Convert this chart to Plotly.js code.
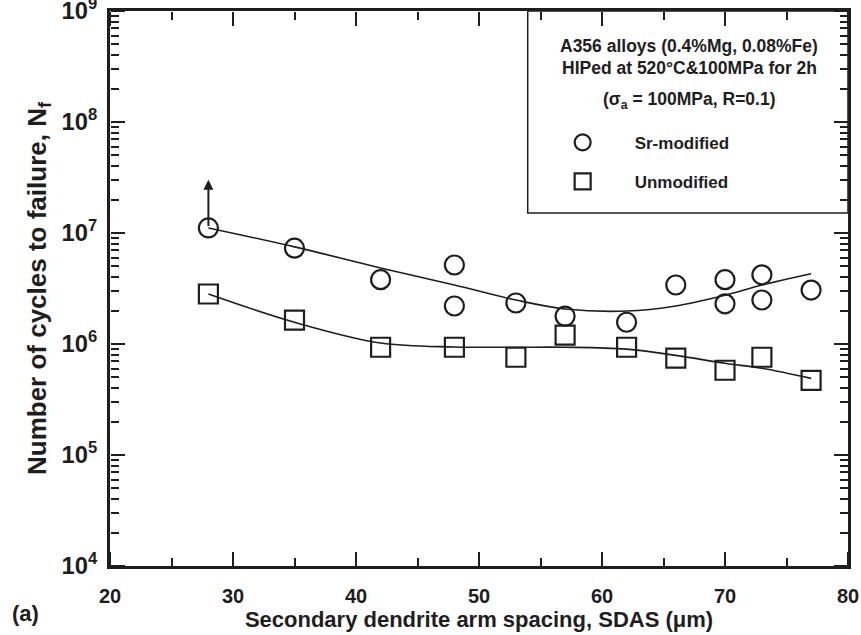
<!DOCTYPE html>
<html><head><meta charset="utf-8">
<script src="https://cdn.plot.ly/plotly-3.0.1.min.js"></script>
<style>body{margin:0;background:#fff}#c{width:861px;height:635px}</style>
</head><body><div id="c"></div>
<script>
// Sr-modified measured points
const srX = [28, 35, 42, 48, 48, 53, 57, 62, 66, 70, 70, 73, 73, 77];
const srY = [1.11e7, 7.3e6, 3.8e6, 5.15e6, 2.2e6, 2.34e6, 1.78e6, 1.57e6, 3.4e6, 3.8e6, 2.3e6, 4.2e6, 2.49e6, 3.06e6];
// Unmodified measured points
const unX = [28, 35, 42, 48, 53, 57, 62, 66, 70, 73, 77];
const unY = [2.82e6, 1.64e6, 9.35e5, 9.35e5, 7.6e5, 1.2e6, 9.35e5, 7.45e5, 5.8e5, 7.6e5, 4.7e5];
// Fitted trend curves
const srFitX = [28, 35, 42, 48, 53, 57, 62, 66, 70, 73, 77];
const srFitY = [1.11e7, 7.5e6, 4.84e6, 3.4e6, 2.49e6, 2.07e6, 1.98e6, 2.2e6, 2.75e6, 3.4e6, 4.3e6];
const unFitX = [28, 35, 42, 48, 53, 57, 62, 66, 70, 73, 77];
const unFitY = [2.82e6, 1.57e6, 1.02e6, 9.4e5, 9.35e5, 9.35e5, 9.0e5, 7.9e5, 6.7e5, 6.05e5, 4.9e5];
// Run-out arrow on first Sr point (log10 units)
const arrowX = 28, arrowFrom = 7.05, arrowTo = 7.48;
// Axis ranges
const xRange = [20, 80];
const yRangeLog = [4, 9];

const F = "Liberation Sans, Arial, sans-serif";
const K = '#1e1e1e';
const traces = [
  {x: srFitX, y: srFitY, mode: 'lines', line: {color: K, width: 1.6, shape: 'spline', smoothing: 1}, showlegend: false, hoverinfo: 'skip'},
  {x: unFitX, y: unFitY, mode: 'lines', line: {color: K, width: 1.6, shape: 'spline', smoothing: 1}, showlegend: false, hoverinfo: 'skip'},
  {x: srX, y: srY, mode: 'markers', name: 'Sr-modified', legendgroup: 'a',
   marker: {symbol: 'circle-open', size: 19, color: K, line: {width: 2.2, color: K}}},
  {x: unX, y: unY, mode: 'markers', name: 'Unmodified', legendgroup: 'b',
   marker: {symbol: 'square-open', size: 19, color: K, line: {width: 2.2, color: K}}},
  // transparent copies that only bring the tick-only frame axes into being
  {x: srX, y: srY, xaxis: 'x2', yaxis: 'y2', mode: 'markers', marker: {opacity: 0}, showlegend: false, hoverinfo: 'skip'},
  {x: unX, y: unY, xaxis: 'x3', yaxis: 'y3', mode: 'markers', marker: {opacity: 0}, showlegend: false, hoverinfo: 'skip'}
];

// tick-only helper axes whose outward ticks point into the plot area
function xTickAxis(side, pos) {
  return {overlaying: 'x', anchor: 'free', position: pos, side: side, range: xRange, dtick: 10, tick0: 20,
    ticks: 'outside', ticklen: 14, tickwidth: 2.5, tickcolor: K,
    minor: {dtick: 5, ticks: 'outside', ticklen: 8, tickwidth: 2, tickcolor: K},
    showticklabels: false, showline: false, showgrid: false, zeroline: false};
}
function yTickAxis(side, pos) {
  return {overlaying: 'y', anchor: 'free', position: pos, side: side, type: 'log', range: yRangeLog, dtick: 1,
    ticks: 'outside', ticklen: 14, tickwidth: 2.5, tickcolor: K,
    minor: {dtick: 'D1', ticks: 'outside', ticklen: 8, tickwidth: 2, tickcolor: K},
    showticklabels: false, showline: false, showgrid: false, zeroline: false};
}

const layout = {
  width: 861, height: 635,
  margin: {l: 110, r: 13, t: 11, b: 69},
  paper_bgcolor: '#fff', plot_bgcolor: '#fff',
  font: {family: F, color: K, size: 15, weight: 'bold'},
  xaxis: {
    range: xRange, dtick: 10, tick0: 20, ticks: '',
    showline: true, linewidth: 3, linecolor: K, mirror: true, showgrid: false, zeroline: false,
    ticklabelstandoff: 10,
    tickfont: {size: 20, family: F, weight: 'bold', color: K},
    title: {text: 'Secondary dendrite arm spacing, SDAS (μm)', font: {size: 22, family: F, weight: 'bold', color: K}, standoff: 0}
  },
  yaxis: {
    type: 'log', range: yRangeLog, dtick: 1, exponentformat: 'power', ticks: '',
    showline: true, linewidth: 3, linecolor: K, mirror: true, showgrid: false, zeroline: false,
    ticklabeloverflow: 'allow', ticklabelstandoff: 6,
    tickfont: {size: 19, family: F, weight: 'bold', color: K},
    title: {text: 'Number of cycles to failure, N<sub>f</sub>', font: {size: 26, family: F, weight: 'bold', color: K}, standoff: 8}
  },
  xaxis2: xTickAxis('top', 0),
  xaxis3: xTickAxis('bottom', 1),
  yaxis2: yTickAxis('right', 0),
  yaxis3: yTickAxis('left', 1),
  showlegend: true,
  legend: {x: 0.570, y: 0.795, xanchor: 'left', yanchor: 'top', bgcolor: 'rgba(0,0,0,0)', borderwidth: 0,
    traceorder: 'grouped', tracegroupgap: 14,
    font: {size: 17, family: F, weight: 'bold', color: K}, itemwidth: 94},
  shapes: [
    {type: 'rect', xref: 'paper', yref: 'paper', x0: 0.566, x1: 1, y0: 0.636, y1: 1, line: {color: K, width: 1.5}}
  ],
  annotations: [
    {xref: 'paper', yref: 'paper', x: 0.785, y: 0.937, xanchor: 'center', yanchor: 'middle', text: 'A356 alloys (0.4%Mg, 0.08%Fe)', showarrow: false, font: {size: 17.5, family: F, weight: 'bold', color: K}},
    {xref: 'paper', yref: 'paper', x: 0.785, y: 0.897, xanchor: 'center', yanchor: 'middle', text: 'HIPed at 520°C&100MPa for 2h', showarrow: false, font: {size: 17.5, family: F, weight: 'bold', color: K}},
    {xref: 'paper', yref: 'paper', x: 0.785, y: 0.838, xanchor: 'center', yanchor: 'middle', text: '(σ<sub>a</sub> = 100MPa, R=0.1)', showarrow: false, font: {size: 17.5, family: F, weight: 'bold', color: K}},
    {xref: 'x', yref: 'y', x: arrowX, y: arrowTo, axref: 'x', ayref: 'y', ax: arrowX, ay: arrowFrom, text: '', showarrow: true,
     arrowhead: 2, arrowsize: 1, arrowwidth: 2, arrowcolor: K},
    {xref: 'paper', yref: 'paper', x: -0.135, y: -0.085, xanchor: 'left', yanchor: 'middle', text: '(a)', showarrow: false, font: {size: 22, family: F, weight: 'bold', color: K}}
  ]
};
Plotly.newPlot('c', traces, layout, {displayModeBar: false, staticPlot: true});
</script></body></html>
